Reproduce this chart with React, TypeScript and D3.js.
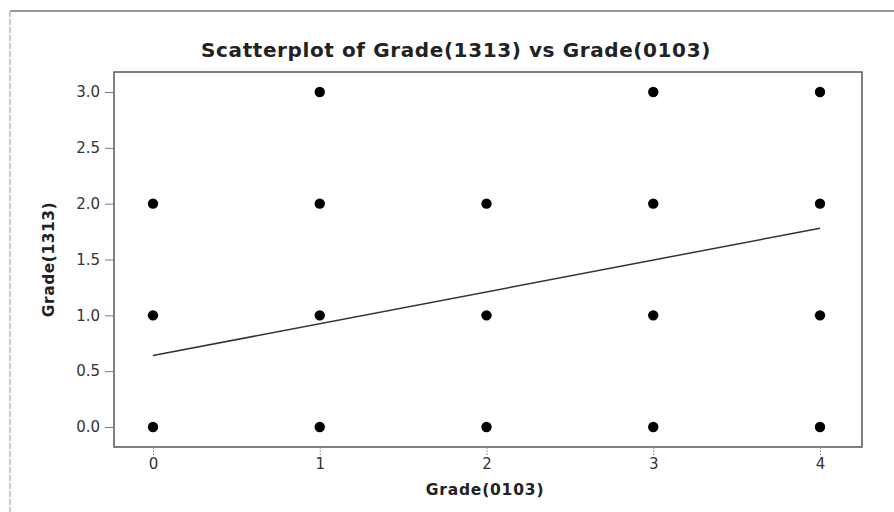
import { useEffect, useRef } from 'react';
import * as d3 from 'd3';

// Observed (grade0103, grade1313) pairs
const xGrades = [0, 0, 0, 1, 1, 1, 1, 2, 2, 2, 3, 3, 3, 3, 4, 4, 4, 4];
const yGrades = [0, 1, 2, 0, 1, 2, 3, 0, 1, 2, 0, 1, 2, 3, 0, 1, 2, 3];

// Fitted line
const fitX = [0, 4];
const fitY = [0.64, 1.78];

const xTicks = [0, 1, 2, 3, 4];
const yTicks = [0, 0.5, 1, 1.5, 2, 2.5, 3];

export default function App() {
  const svgRef = useRef<SVGSVGElement>(null);

  useEffect(() => {
    if (!svgRef.current) return;
    const svg = d3.select(svgRef.current);
    svg.selectAll('*').remove();

    const width = 894;
    const height = 512;
    const frame = { left: 114, right: 862, top: 72, bottom: 447 };
    const font = '"DejaVu Sans", Verdana, sans-serif';

    const x = d3.scaleLinear().domain([0, 4]).range([153, 820]);
    const y = d3.scaleLinear().domain([0, 3]).range([427, 92]);

    svg.attr('width', width).attr('height', height).attr('viewBox', `0 0 ${width} ${height}`);

    svg.append('rect').attr('width', width).attr('height', height).attr('fill', '#fff');

    // Scanned page edges
    svg.append('line')
      .attr('x1', 10).attr('x2', width).attr('y1', 11).attr('y2', 11)
      .attr('stroke', '#777').attr('stroke-width', 1.5);
    svg.append('line')
      .attr('x1', 10).attr('x2', 10).attr('y1', 11).attr('y2', height)
      .attr('stroke', '#999').attr('stroke-width', 1).attr('stroke-dasharray', '6 2');

    svg.append('text')
      .attr('x', 456).attr('y', 57)
      .attr('text-anchor', 'middle')
      .attr('font-family', font).attr('font-weight', 'bold').attr('font-size', 20)
      .attr('letter-spacing', 0.6)
      .attr('fill', '#222')
      .text('Scatterplot of Grade(1313) vs Grade(0103)');

    svg.append('rect')
      .attr('x', frame.left).attr('y', frame.top)
      .attr('width', frame.right - frame.left).attr('height', frame.bottom - frame.top)
      .attr('fill', 'none').attr('stroke', '#555').attr('stroke-width', 1.5);

    // Axes
    const yAxis = svg.append('g')
      .attr('transform', `translate(${frame.left},0)`)
      .call(d3.axisLeft(y).tickValues(yTicks).tickFormat(d3.format('.1f')).tickSize(9).tickSizeOuter(0));
    yAxis.select('.domain').remove();
    yAxis.selectAll('line').attr('stroke', '#777');
    yAxis.selectAll('text')
      .attr('font-family', font).attr('font-size', 15).attr('fill', '#333').attr('x', -14);

    const xAxis = svg.append('g')
      .attr('transform', `translate(0,${frame.bottom})`)
      .call(d3.axisBottom(x).tickValues(xTicks).tickFormat(d3.format('d')).tickSize(8).tickSizeOuter(0));
    xAxis.select('.domain').remove();
    xAxis.selectAll('line').attr('stroke', '#999').attr('stroke-dasharray', '2 1');
    xAxis.selectAll('text')
      .attr('font-family', font).attr('font-size', 15).attr('fill', '#333').attr('y', 11);

    svg.append('text')
      .attr('x', 485).attr('y', 495)
      .attr('text-anchor', 'middle')
      .attr('font-family', font).attr('font-weight', 'bold').attr('font-size', 15.5)
      .attr('letter-spacing', 0.8)
      .attr('fill', '#222')
      .text('Grade(0103)');

    svg.append('text')
      .attr('transform', `translate(54,${(y(0) + y(3)) / 2}) rotate(-90)`)
      .attr('text-anchor', 'middle')
      .attr('font-family', font).attr('font-weight', 'bold').attr('font-size', 15.5)
      .attr('letter-spacing', 0.5)
      .attr('fill', '#222')
      .text('Grade(1313)');

    // Fit line
    const fit = d3.line<number>()
      .x((d) => x(d))
      .y((_, i) => y(fitY[i]));
    svg.append('path')
      .datum(fitX)
      .attr('d', fit)
      .attr('fill', 'none').attr('stroke', '#333').attr('stroke-width', 1.5);

    // Points
    svg.append('g')
      .selectAll('circle')
      .data(xGrades)
      .join('circle')
      .attr('cx', (d) => x(d))
      .attr('cy', (_, i) => y(yGrades[i]))
      .attr('r', 5.2)
      .attr('fill', '#000');
  }, []);

  return <svg ref={svgRef} style={{ display: 'block', position: 'absolute', left: 0, top: 0 }} />;
}
